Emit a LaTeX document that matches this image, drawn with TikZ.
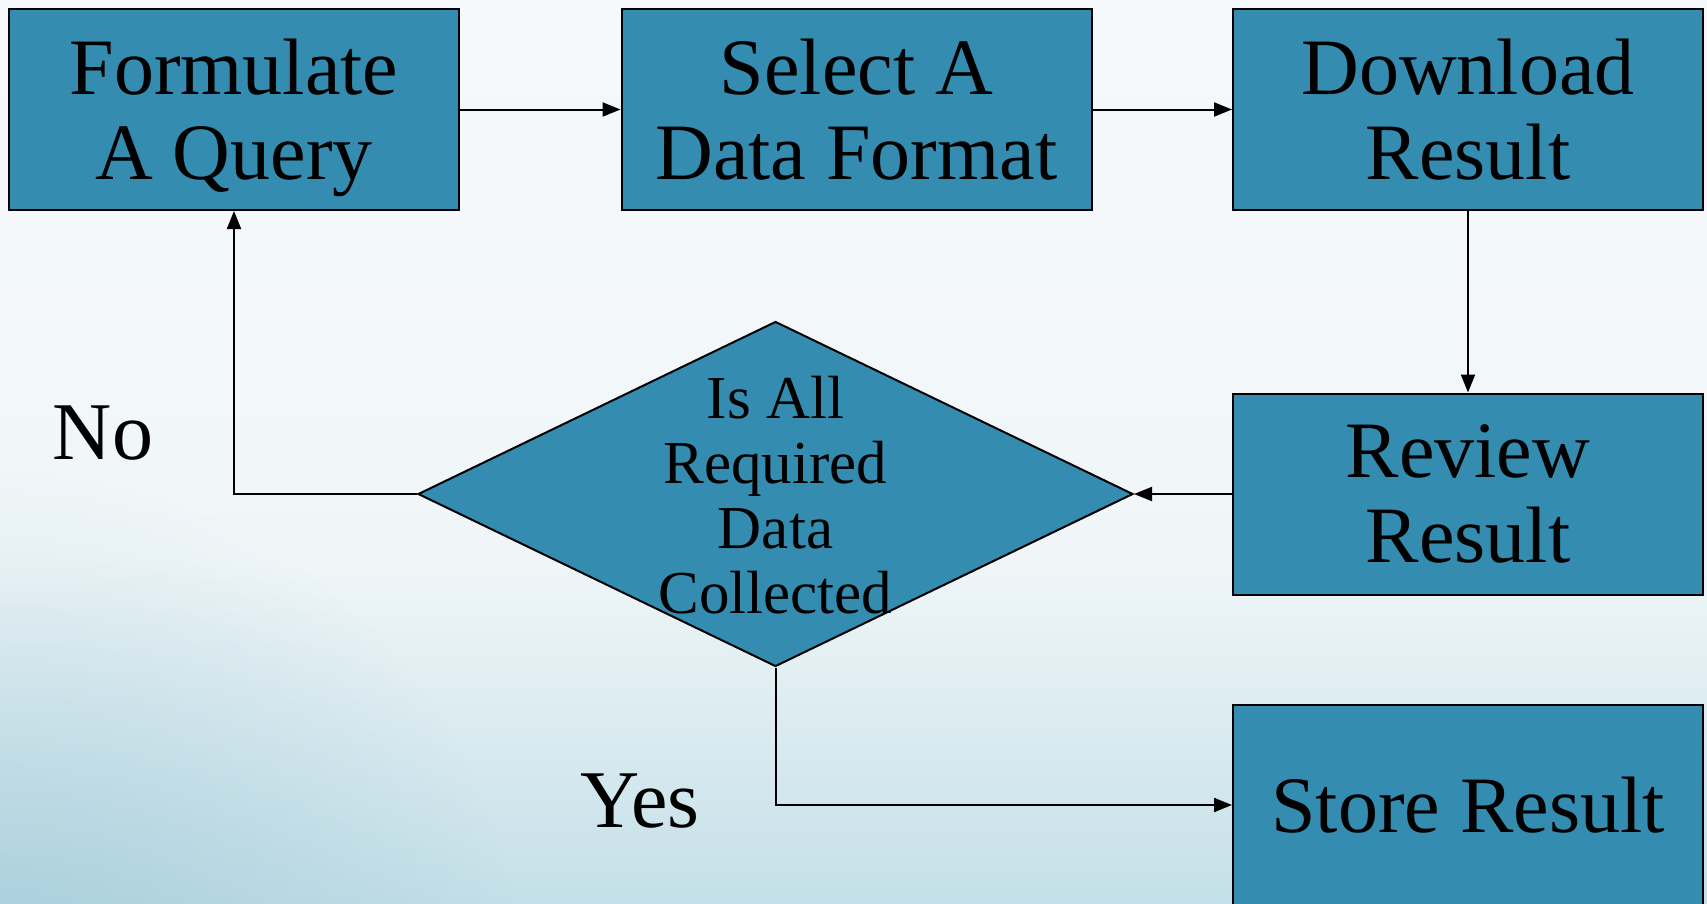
\documentclass[tikz,border=0pt]{standalone}
\usepackage{fontspec}
\setmainfont{Liberation Serif}
\usetikzlibrary{arrows.meta,shapes.geometric,fadings}
\definecolor{boxblue}{RGB}{52,141,176}
\definecolor{bgtop}{RGB}{246,249,252}
\definecolor{bgmid}{RGB}{240,246,248}
\definecolor{bgbot}{RGB}{196,223,232}
\definecolor{bgdark}{RGB}{140,190,208}
\tikzfading[name=cornerfade,inner color=transparent!0,outer color=transparent!100]
\begin{document}
\begin{tikzpicture}[x=1pt,y=-1pt,
  procbox/.style={draw=black,line width=2pt,fill=boxblue,rectangle,inner sep=0pt,
    minimum width=470pt,minimum height=201pt,align=center,text depth=0pt,
    font=\fontsize{80}{85}\selectfont},
  firstbox/.style={procbox,minimum width=450pt},
  decbox/.style={draw=black,line width=2pt,fill=boxblue,diamond,inner sep=0pt,
    minimum width=715pt,minimum height=345pt},
  dectext/.style={align=center,inner sep=0pt,font=\fontsize{61}{65}\selectfont},
  lbl/.style={inner sep=0pt,anchor=base,font=\fontsize{82}{85}\selectfont},
  conn/.style={draw=black,line width=2pt,-{Triangle[length=18pt,width=14pt]}}]
\useasboundingbox (0,0) rectangle (1707,903);
% background
\shade[top color=bgtop,bottom color=bgmid] (0,0) rectangle (1707,560);
\shade[top color=bgmid,bottom color=bgbot] (0,559) rectangle (1707,903);
\begin{scope}
\clip (0,0) rectangle (1707,903);
\fill[bgdark,opacity=0.5,path fading=cornerfade,fit fading=true] (0,990) circle[radius=520pt];
\end{scope}
% nodes
\node[firstbox] (q) at (234,109.5) {Formulate\\A Query};
\node[procbox] (f) at (856.5,109.5) {Select A\\Data Format};
\node[procbox] (dl) at (1468,109.5) {Download\\Result};
\node[procbox] (rv) at (1468,494) {Review\\Result};
\node[procbox] (st) at (1468,805) {Store Result};
\node[decbox] (d) at (775.5,494) {};
\node[dectext] (dt) at (775.5,495) {Is All\\Required\\Data\\Collected};
\node[lbl] (no) at (103,459) {No};
\node[lbl] (yes) at (640,827) {Yes};
% connectors
\draw[conn] (q.east) -- (f.west);
\draw[conn] (f.east) -- (dl.west);
\draw[conn] (dl.south) -- (rv.north);
\draw[conn] (rv.west) -- (d.east);
\draw[conn] (d.west) -| (q.south);
\draw[conn] (d.south) |- (st.west);
\end{tikzpicture}
\end{document}
